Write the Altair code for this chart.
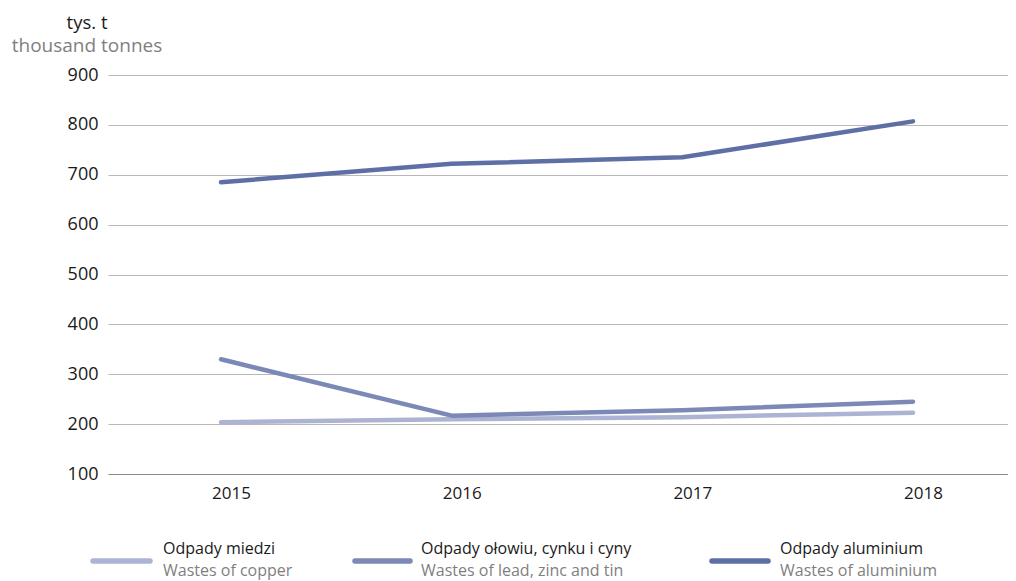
import altair as alt
import pandas as pd

years = [2015, 2016, 2017, 2018]
copper = [204, 210, 214, 223]
lead = [330, 217, 228, 245]
aluminium = [685, 722, 735, 807]

series_pl = ["Odpady miedzi", "Odpady ołowiu, cynku i cyny", "Odpady aluminium"]
series_en = ["Wastes of copper", "Wastes of lead, zinc and tin", "Wastes of aluminium"]
colors = ["#adb3d3", "#7c89b6", "#5d6fa4"]
y_ticks = [100, 200, 300, 400, 500, 600, 700, 800, 900]
unit_pl = ["tys. t"]
unit_en = ["thousand tonnes"]

FONT = "Open Sans"
FS = 16
DARK = "#1a1a1a"
GRAY = "#7f7f7f"

x_scale = alt.Scale(domain=[2014.51, 2018.412], nice=False, zero=False)
y_scale = alt.Scale(domain=[100, 900], nice=False, zero=False)
x_axis = alt.Axis(values=years, format="d", ticks=False, domain=False, grid=False,
                  labelPadding=11, title=None, labelOffset=10, labelFontSize=17)
y_axis = alt.Axis(values=y_ticks, ticks=False, domain=False, grid=True,
                  gridColor={"condition": {"test": "datum.value === 100", "value": "#8a8a8a"},
                             "value": "#b8b8b8"},
                  gridWidth=1.2, labelPadding=10, title=None, labelFontSize=18)

layers = []
for i, (name, vals) in enumerate(zip(series_pl, [copper, lead, aluminium])):
    df = pd.DataFrame({"year": years, "value": vals, "series": [name] * len(years)})
    layers.append(
        alt.Chart(df).mark_line(strokeWidth=4.5, strokeCap="round", strokeJoin="round", color=colors[i])
        .encode(x=alt.X("year:Q", scale=x_scale, axis=x_axis),
                y=alt.Y("value:Q", scale=y_scale, axis=y_axis))
    )

# unit titles
layers.append(
    alt.Chart(pd.DataFrame({"t": unit_pl})).mark_text(font=FONT, fontSize=18.5, color=DARK, align="center", baseline="alphabetic")
    .encode(x=alt.value(-21), y=alt.value(-46), text="t:N")
)
layers.append(
    alt.Chart(pd.DataFrame({"t": unit_en})).mark_text(font=FONT, fontSize=19, color=GRAY, align="center", baseline="alphabetic")
    .encode(x=alt.value(-21), y=alt.value(-23), text="t:N")
)

# custom legend
sym_x = [(-15, 42), (247, 302), (604, 660)]
txt_x = [55, 313, 672]
leg_df = pd.DataFrame({"pl": series_pl, "en": series_en})
for i in range(3):
    one = leg_df.iloc[[i]]
    layers.append(
        alt.Chart(one).mark_rule(strokeWidth=5.5, strokeCap="round", color=colors[i])
        .encode(x=alt.value(sym_x[i][0]), x2=alt.value(sym_x[i][1]), y=alt.value(486))
    )
    layers.append(
        alt.Chart(one).mark_text(font=FONT, fontSize=FS, color=DARK, align="left", baseline="middle")
        .encode(x=alt.value(txt_x[i]), y=alt.value(474), text="pl:N")
    )
    layers.append(
        alt.Chart(one).mark_text(font=FONT, fontSize=FS, color=GRAY, align="left", baseline="middle")
        .encode(x=alt.value(txt_x[i]), y=alt.value(496), text="en:N")
    )

chart = alt.layer(*layers).properties(
    width=900, height=399,
    autosize=alt.AutoSizeParams(type="none"),
    padding={"left": 100, "top": 67, "right": 0, "bottom": 106},
).configure(font=FONT).configure_view(stroke=None).configure_axis(
    labelFont=FONT, labelColor=DARK
)

chart.save("out.html", embed_options={"renderer": "svg", "actions": False})
